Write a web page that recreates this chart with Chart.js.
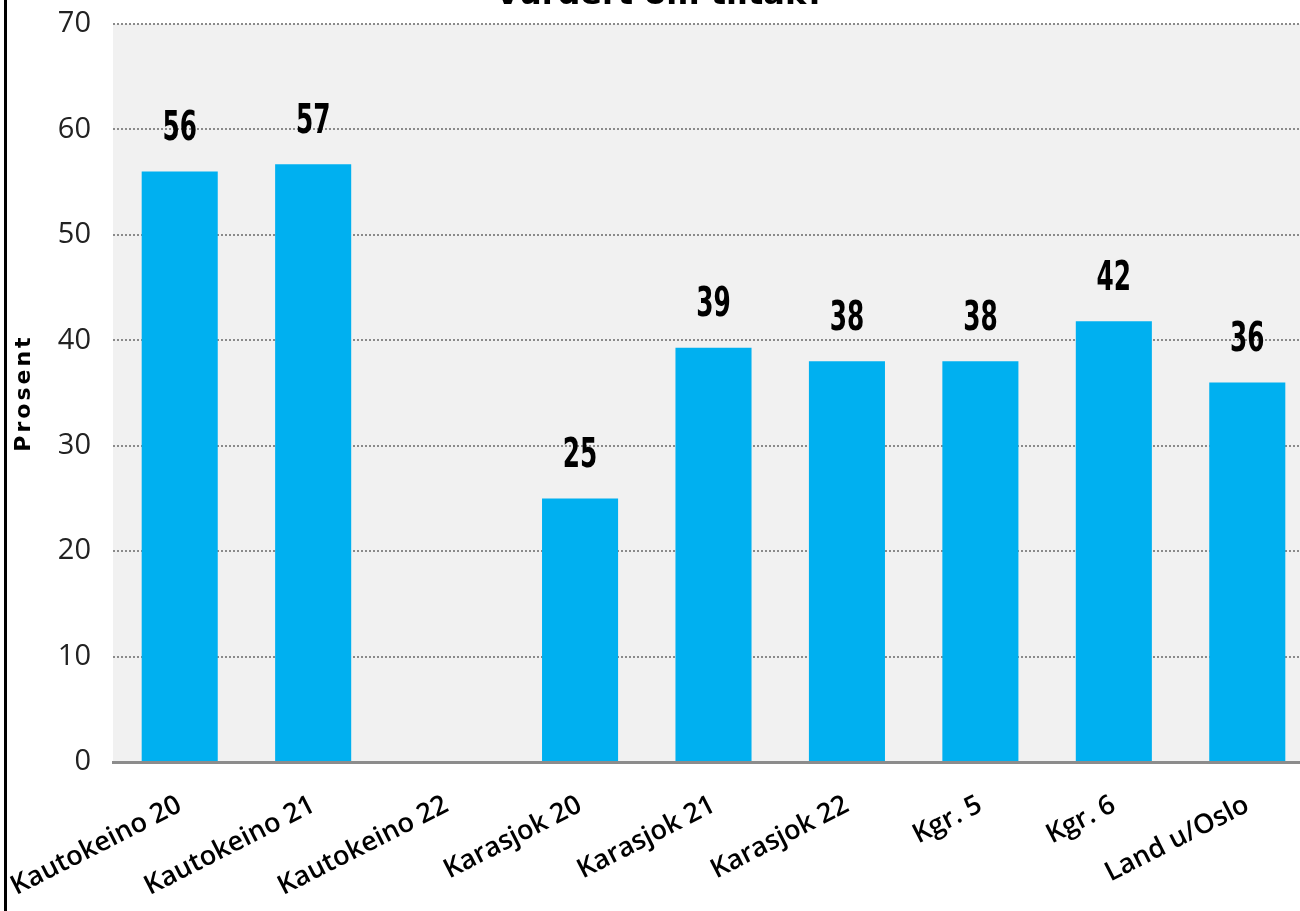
<!DOCTYPE html>
<html>
<head>
<meta charset="utf-8">
<script src="https://cdn.jsdelivr.net/npm/chart.js@4/dist/chart.umd.min.js"></script>
<style>
  html, body { margin: 0; padding: 0; background: #fff; overflow: hidden; }
  #wrap { position: relative; width: 1300px; height: 911px; overflow: hidden; }
  #edge { position: absolute; left: 4px; top: 0; width: 3px; height: 911px; background: #000; z-index: 2; }
  #box { position: absolute; left: 0; top: 0; width: 1316px; height: 911px; }
</style>
</head>
<body>
<div id="wrap">
  <div id="edge"></div>
  <div id="box"><canvas id="chart"></canvas></div>
</div>
<script>
// --- DATA ---
const categories = ['Kautokeino 20', 'Kautokeino 21', 'Kautokeino 22', 'Karasjok 20', 'Karasjok 21', 'Karasjok 22', 'Kgr. 5', 'Kgr. 6', 'Land u/Oslo'];
const values = [56, 56.7, null, 25, 39.3, 38, 38, 41.8, 36];
const valueLabels = ['56', '57', '', '25', '39', '38', '38', '42', '36'];
const yTicks = [0, 10, 20, 30, 40, 50, 60, 70];
const chartTitle = 'Vurdert om tiltak?';
const yTitle = 'Prosent';

// --- PLUGINS ---
const plotBackground = {
    id: 'plotBackground',
    beforeDraw(chart) {
        const { ctx, chartArea } = chart;
        ctx.save();
        ctx.fillStyle = '#f1f1f1';
        ctx.fillRect(chartArea.left, chartArea.top, chartArea.right - chartArea.left, chartArea.bottom - chartArea.top);
        ctx.restore();
    }
};

// narrow bold numbers above the bars (squeezed horizontally)
const barValues = {
    id: 'barValues',
    afterDatasetsDraw(chart) {
        const { ctx } = chart;
        const meta = chart.getDatasetMeta(0);
        const squeeze = 0.62;
        ctx.save();
        ctx.font = 'bold 40px "DejaVu Sans", sans-serif';
        ctx.fillStyle = '#000';
        ctx.textAlign = 'center';
        ctx.textBaseline = 'middle';
        meta.data.forEach((bar, i) => {
            if (values[i] === null || !valueLabels[i]) return;
            ctx.save();
            ctx.translate(bar.x, bar.y - 42);
            ctx.scale(squeeze, 1);
            ctx.fillText(valueLabels[i], 0, 0);
            ctx.restore();
        });
        ctx.restore();
    }
};

// title sits mostly above the visible page, only its lower edge shows;
// axis title drawn here too so it can get letter spacing
const extraText = {
    id: 'extraText',
    afterDraw(chart) {
        const { ctx, chartArea } = chart;
        ctx.save();
        ctx.font = 'bold 32px "DejaVu Sans", sans-serif';
        ctx.fillStyle = '#000';
        ctx.textAlign = 'center';
        ctx.textBaseline = 'alphabetic';
        ctx.fillText(chartTitle, 660, 4);
        ctx.restore();

        ctx.save();
        ctx.translate(24, (chartArea.top + chartArea.bottom) / 2);
        ctx.rotate(-Math.PI / 2);
        ctx.font = 'bold 22px "DejaVu Sans", sans-serif';
        ctx.letterSpacing = '3px';
        ctx.fillStyle = '#000';
        ctx.textAlign = 'center';
        ctx.textBaseline = 'middle';
        ctx.fillText(yTitle, 0, 0);
        ctx.restore();
    }
};

// --- CHART ---
new Chart(document.getElementById('chart'), {
    type: 'bar',
    data: {
        labels: categories,
        datasets: [{
            data: values,
            backgroundColor: '#00b0f0',
            borderWidth: 0,
            barPercentage: 0.57,
            categoryPercentage: 1.0
        }]
    },
    options: {
        responsive: true,
        maintainAspectRatio: false,
        animation: false,
        layout: { padding: { top: 24, right: 2, left: 0, bottom: 0 } },
        plugins: {
            legend: { display: false },
            tooltip: { enabled: false },
            title: { display: false }
        },
        scales: {
            x: {
                grid: { display: false, drawTicks: false },
                border: { display: true, color: '#8c8c8c', width: 3 },
                ticks: {
                    color: '#000',
                    font: { family: '"Open Sans", sans-serif', size: 27, weight: '600' },
                    minRotation: 27,
                    maxRotation: 27,
                    autoSkip: false,
                    padding: 27
                },
                afterFit(scale) {
                    scale.height = 149;
                    scale.paddingLeft = 0;
                    scale.paddingRight = 0;
                }
            },
            y: {
                min: 0,
                max: 70,
                afterBuildTicks(scale) { scale.ticks = yTicks.map(v => ({ value: v })); },
                grid: {
                    color: '#8a8a8a',
                    lineWidth: 2,
                    drawTicks: false
                },
                border: { display: false, dash: [2, 2] },
                ticks: {
                    color: '#222',
                    font: { family: '"Open Sans", sans-serif', size: 29 },
                    padding: 22
                },
                title: { display: false },
                afterFit(scale) {
                    scale.width = 113;
                    scale.paddingTop = 0;
                    scale.paddingBottom = 0;
                }
            }
        }
    },
    plugins: [plotBackground, barValues, extraText]
});
</script>
</body>
</html>
